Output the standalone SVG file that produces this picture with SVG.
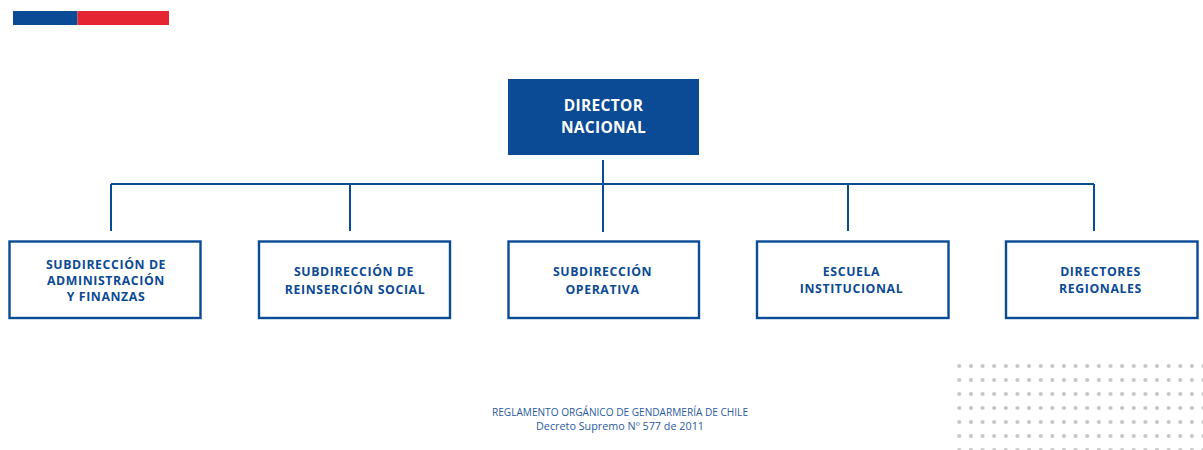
<svg xmlns="http://www.w3.org/2000/svg" width="1203" height="450" viewBox="0 0 1203 450">
<style>
.box{fill:#fff;stroke:#0b4a95;stroke-width:2.4}
.lbl{font-family:"Open Sans","Noto Sans",sans-serif;font-weight:700;font-size:12.3px;fill:#0b4a95;text-anchor:middle;letter-spacing:0.6px}
.top{font-family:"Open Sans","Noto Sans",sans-serif;font-weight:700;font-size:15.5px;fill:#fff;text-anchor:middle;letter-spacing:0.3px}
.conn{fill:none;stroke:#0b4a95;stroke-width:2}
.foot{font-family:"Open Sans","Noto Sans",sans-serif;font-size:10px;fill:#2a5aa0;text-anchor:middle}
</style>
<defs>
<pattern id="dots" x="953.5" y="359" width="11.63" height="14" patternUnits="userSpaceOnUse">
<circle cx="5.8" cy="7" r="2" fill="#c4c4c4"/>
</pattern>
</defs>
<rect width="1203" height="450" fill="#fff"/>
<rect x="13" y="11" width="64.5" height="14" fill="#0b4a95"/>
<rect x="77.5" y="11" width="91.5" height="14" fill="#e52632"/>
<rect x="953.5" y="359" width="250" height="91" fill="url(#dots)"/>
<g id="connectors">
<path class="conn" d="M603 160V232M111 184H1094M111 184V231M350 184V231M848 184V231M1094 184V231"/>
</g>
<g id="director">
<rect x="508" y="79" width="191" height="76" fill="#0b4a95"/>
<text class="top" x="603.5" y="110.7">DIRECTOR</text>
<text class="top" x="603.5" y="132.7">NACIONAL</text>
</g>
<g id="admin">
<rect class="box" x="9.5" y="241.5" width="191" height="76.5"/>
<text class="lbl" x="106" y="269">SUBDIRECCIÓN DE</text>
<text class="lbl" x="106" y="285">ADMINISTRACIÓN</text>
<text class="lbl" x="106" y="301">Y FINANZAS</text>
</g>
<g id="reinsercion">
<rect class="box" x="259" y="241.5" width="191" height="76.5"/>
<text class="lbl" x="354" y="276">SUBDIRECCIÓN DE</text>
<text class="lbl" x="355" y="294.3">REINSERCIÓN SOCIAL</text>
</g>
<g id="operativa">
<rect class="box" x="508.5" y="241.5" width="190.5" height="76.5"/>
<text class="lbl" x="602.5" y="276">SUBDIRECCIÓN</text>
<text class="lbl" x="602.5" y="294.3">OPERATIVA</text>
</g>
<g id="escuela">
<rect class="box" x="757" y="241.5" width="191.5" height="76.5"/>
<text class="lbl" x="851.5" y="275.7">ESCUELA</text>
<text class="lbl" x="851.5" y="293.3">INSTITUCIONAL</text>
</g>
<g id="regionales">
<rect class="box" x="1006" y="241.5" width="191.5" height="76.5"/>
<text class="lbl" x="1100.5" y="275.7">DIRECTORES</text>
<text class="lbl" x="1100.5" y="293.3">REGIONALES</text>
</g>
<text class="foot" x="620" y="416" textLength="256" lengthAdjust="spacingAndGlyphs">REGLAMENTO ORGÁNICO DE GENDARMERÍA DE CHILE</text>
<text class="foot" x="620" y="430" textLength="168" lengthAdjust="spacingAndGlyphs">Decreto Supremo Nº 577 de 2011</text>
</svg>
